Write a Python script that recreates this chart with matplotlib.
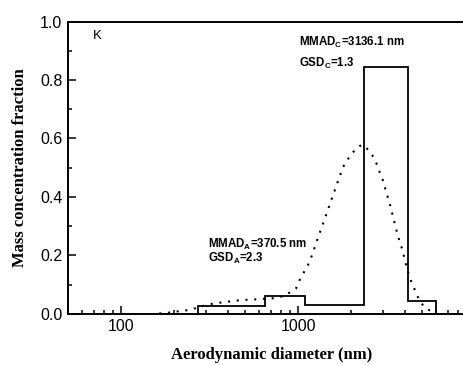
import matplotlib
matplotlib.use("Agg")
import matplotlib.pyplot as plt
from matplotlib.ticker import LogLocator, NullFormatter, FixedLocator, MultipleLocator, FormatStrFormatter

# Impactor stages (edges in nm) and mass fraction per stage
stage_edges = [270, 650, 1100, 2350, 4200, 6000]
stage_fraction = [0.025, 0.06, 0.03, 0.845, 0.045]

# Fitted curve
fit_d = [164, 183, 200, 227, 257, 312, 344, 383, 427, 466, 519, 573, 631, 703,
         783, 866, 974, 1017, 1076, 1144, 1194, 1281, 1332, 1378, 1433, 1484,
         1537, 1599, 1653, 1719, 1773, 1883, 2010, 2222, 2330, 2445, 2643, 2785,
         2896, 3011, 3107, 3200, 3297, 3385, 3474, 3566, 3661, 3778, 3907, 3998,
         4103, 4227, 4396, 4597, 4816, 5142, 5734]
fit_frac = [0.001, 0.003, 0.007, 0.010, 0.017, 0.032, 0.036, 0.040, 0.043, 0.046,
            0.048, 0.049, 0.051, 0.052, 0.056, 0.067, 0.087, 0.114, 0.141, 0.170,
            0.198, 0.252, 0.281, 0.306, 0.335, 0.361, 0.388, 0.416, 0.443, 0.469,
            0.497, 0.523, 0.549, 0.574, 0.578, 0.566, 0.540, 0.512, 0.484, 0.458,
            0.429, 0.403, 0.377, 0.349, 0.322, 0.295, 0.268, 0.241, 0.215, 0.187,
            0.160, 0.133, 0.105, 0.078, 0.050, 0.024, 0.005]

x_ticks = [100, 1000]
x_tick_labels = ["100", "1000"]

sans = ["Liberation Sans", "DejaVu Sans"]
serif = ["Liberation Serif", "DejaVu Serif"]

fig = plt.figure(figsize=(4.64, 3.65), dpi=100)
ax = fig.add_axes([68 / 464, 1 - 313.7 / 365, 407 / 464, 292 / 365])

ax.stairs(stage_fraction, stage_edges, baseline=0, fill=False, color="black", lw=1.3)
ax.plot(fit_d, fit_frac, color="black", lw=1.5, linestyle=(0, (1, 3.2)))

ax.set_xscale("log")
ax.set_xlim(50, 10000)
ax.set_ylim(0, 1.0)

ax.xaxis.set_major_locator(FixedLocator(x_ticks))
ax.set_xticklabels(x_tick_labels)
ax.xaxis.set_minor_locator(LogLocator(base=10, subs=range(2, 10), numticks=20))
ax.xaxis.set_minor_formatter(NullFormatter())
ax.yaxis.set_major_locator(MultipleLocator(0.2))
ax.yaxis.set_minor_locator(MultipleLocator(0.1))
ax.yaxis.set_major_formatter(FormatStrFormatter("%.1f"))

ax.tick_params(which="both", direction="in", width=1.1, top=False, right=False)
ax.tick_params(which="major", length=6, pad=4)
ax.tick_params(which="minor", length=3)
for lab in ax.get_xticklabels() + ax.get_yticklabels():
    lab.set_family(sans)
    lab.set_fontsize(11.5)

for s in ["left", "bottom", "top"]:
    ax.spines[s].set_linewidth(1.4)
ax.spines["right"].set_visible(False)

ax.set_xlabel("Aerodynamic diameter (nm)", family=serif, fontweight="bold", fontsize=12, labelpad=9)
ax.set_ylabel("Mass concentration fraction", family=serif, fontweight="bold", fontsize=12, labelpad=9)

ax.text(68.8, 0.951, "K", family=sans, fontsize=9.5, va="center")
ax.text(1017, 0.930, r"MMAD$_\mathregular{C}$=3136.1 nm", family=sans, fontweight="bold", fontsize=8.3, va="center")
ax.text(1017, 0.858, r"GSD$_\mathregular{C}$=1.3", family=sans, fontweight="bold", fontsize=8.3, va="center")
ax.text(308, 0.238, r"MMAD$_\mathregular{A}$=370.5 nm", family=sans, fontweight="bold", fontsize=8.3, va="center")
ax.text(308, 0.190, r"GSD$_\mathregular{A}$=2.3", family=sans, fontweight="bold", fontsize=8.3, va="center")

fig.savefig("out.png", dpi=100)
